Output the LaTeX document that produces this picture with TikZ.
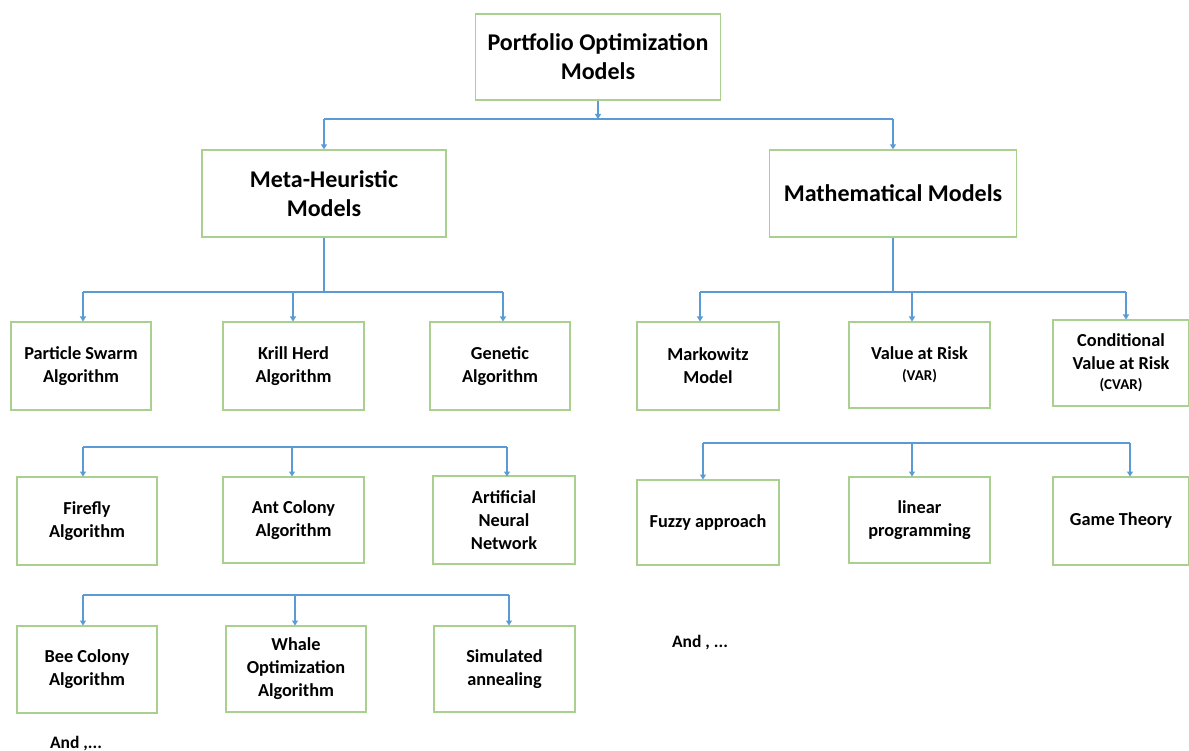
\documentclass[tikz,border=0pt]{standalone}
\usepackage{fontspec}
\setmainfont{Carlito}
\usetikzlibrary{arrows.meta}
\definecolor{boxgreen}{RGB}{169,208,142}
\definecolor{lineblue}{RGB}{91,155,213}
\begin{document}
\begin{tikzpicture}[x=1pt,y=-1pt,
  box/.style={draw=boxgreen,line width=1.4pt,fill=white,align=center,inner sep=2pt,
    font=\bfseries\fontsize{18.3}{23}\selectfont},
  bigbox/.style={box,font=\bfseries\fontsize{24}{29}\selectfont},
  conn/.style={draw=lineblue,line width=1.3pt},
  arr/.style={conn,-{Triangle[length=5pt,width=6pt]}},
  note/.style={font=\bfseries\fontsize{17.5}{20}\selectfont,inner sep=0pt}]
\useasboundingbox (0,0) rectangle (1189,751);
\newcommand{\smalltxt}[1]{{\fontsize{15}{16}\selectfont #1}}
% top level
\node[bigbox,minimum width=245pt,minimum height=86pt] (top) at (598,57) {Portfolio Optimization\\Models};
\node[bigbox,minimum width=244pt,minimum height=87pt] (meta) at (324,193.5) {Meta-Heuristic\\Models};
\node[bigbox,minimum width=247pt,minimum height=87pt] (math) at (893,193.5) {Mathematical Models};
% row 1 left
\node[box,minimum width=140pt,minimum height=88pt] (pso) at (81,366) {Particle Swarm\\Algorithm};
\node[box,minimum width=141pt,minimum height=88pt] (khd) at (293.5,366) {Krill Herd\\Algorithm};
\node[box,minimum width=140pt,minimum height=88pt] (ga) at (500,366) {Genetic\\Algorithm};
% row 1 right
\node[box,minimum width=142pt,minimum height=88pt] (mkw) at (708,366) {Markowitz\\Model};
\node[box,minimum width=141pt,minimum height=86pt] (var) at (919.5,365) {Value at Risk\\[-2pt]\smalltxt{(VAR)}};
\node[box,minimum width=136pt,minimum height=86pt] (cvar) at (1121,363) {Conditional\\Value at Risk\\[-3pt]\smalltxt{(CVAR)}};
% row 2 left
\node[box,minimum width=140pt,minimum height=88pt] (ffa) at (87,521) {Firefly\\Algorithm};
\node[box,minimum width=141pt,minimum height=86pt] (aco) at (293.5,520) {Ant Colony\\Algorithm};
\node[box,minimum width=142pt,minimum height=88pt] (ann) at (504,520) {Artificial\\Neural\\Network};
% row 2 right
\node[box,minimum width=142pt,minimum height=85pt] (fuz) at (708,522.5) {Fuzzy approach};
\node[box,minimum width=141pt,minimum height=86pt] (lp) at (919.5,520) {linear\\programming};
\node[box,minimum width=136pt,minimum height=88pt] (game) at (1121,521) {Game Theory};
% row 3 left
\node[box,minimum width=140pt,minimum height=87pt] (bee) at (87,669.5) {Bee Colony\\Algorithm};
\node[box,minimum width=140pt,minimum height=86pt] (woa) at (296,669) {Whale\\Optimization\\Algorithm};
\node[box,minimum width=141pt,minimum height=86pt] (sa) at (504.5,669) {Simulated\\annealing};
% notes
\node[note] (and1) at (76,744) {And ,...};
\node[note] (and2) at (700,643) {And , ...};
% bus coordinates
\coordinate (b0) at (598,119);
\coordinate (b1) at (324,292);
\coordinate (b2) at (893,292);
% top -> level 1
\draw[arr] (top.south) -- (b0);
\draw[conn] (meta.north |- b0) -- (math.north |- b0);
\draw[arr] (meta.north |- b0) -- (meta.north);
\draw[arr] (math.north |- b0) -- (math.north);
% meta -> row 1
\draw[conn] (meta.south) -- (b1);
\draw[conn] (83,292) -- (503,292);
\draw[arr] (83,292) -- (83,321.5);
\draw[arr] (293,292) -- (293,321.5);
\draw[arr] (503,292) -- (503,321.5);
% math -> row 1
\draw[conn] (math.south) -- (b2);
\draw[conn] (700,292) -- (1126,292);
\draw[arr] (700,292) -- (700,321.5);
\draw[arr] (912,292) -- (912,321.5);
\draw[arr] (1126,292) -- (1126,319.5);
% row 2 left bus
\draw[conn] (83,447) -- (507,447);
\draw[arr] (83,447) -- (83,476.5);
\draw[arr] (292,447) -- (292,476.5);
\draw[arr] (507,447) -- (507,476.5);
% row 2 right bus
\draw[conn] (703,443) -- (1130,443);
\draw[arr] (703,443) -- (703,479.5);
\draw[arr] (912,443) -- (912,476.5);
\draw[arr] (1130,443) -- (1130,476.5);
% row 3 left bus
\draw[conn] (83,595) -- (509,595);
\draw[arr] (83,595) -- (83,625.5);
\draw[arr] (295,595) -- (295,625.5);
\draw[arr] (509,595) -- (509,625.5);
\end{tikzpicture}
\end{document}
